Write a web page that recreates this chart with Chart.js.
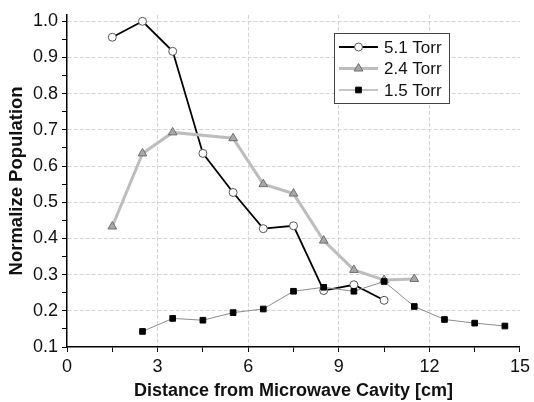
<!DOCTYPE html>
<html>
<head>
<meta charset="utf-8">
<script src="https://cdn.jsdelivr.net/npm/chart.js@4"></script>
<style>
  html, body { margin: 0; padding: 0; background: #fff; }
  #wrap { width: 534px; height: 402px; position: relative; }
</style>
</head>
<body>
<div id="wrap"><canvas id="popChart" width="534" height="402"></canvas></div>
<script>
// Data
const distance51 = [1.5, 2.5, 3.5, 4.5, 5.5, 6.5, 7.5, 8.5, 9.5, 10.5];
const torr51 = [0.956, 1.0, 0.917, 0.635, 0.527, 0.427, 0.435, 0.256, 0.272, 0.229];

const distance24 = [1.5, 2.5, 3.5, 5.5, 6.5, 7.5, 8.5, 9.5, 10.5, 11.5];
const torr24 = [0.433, 0.635, 0.693, 0.677, 0.55, 0.524, 0.394, 0.313, 0.285, 0.288];

const distance15 = [2.5, 3.5, 4.5, 5.5, 6.5, 7.5, 8.5, 9.5, 10.5, 11.5, 12.5, 13.5, 14.5];
const torr15 = [0.143, 0.179, 0.174, 0.195, 0.205, 0.254, 0.265, 0.254, 0.281, 0.212, 0.176, 0.166, 0.158];

const seriesLabels = ['5.1 Torr', '2.4 Torr', '1.5 Torr'];

function toPoints(xs, ys) {
    return xs.map((x, i) => ({ x: x, y: ys[i] }));
}

const isMajor = (v, step) => Math.abs(v / step - Math.round(v / step)) < 1e-6;
const FONT = 'Arial, "Liberation Sans", sans-serif';

// Legend box drawn inside the plot, like the original
const insideLegend = {
    id: 'insideLegend',
    afterDraw(chart) {
        const ctx = chart.ctx;
        const left = 334, top = 33, w = 115, h = 70;
        ctx.save();
        ctx.fillStyle = '#fff';
        ctx.fillRect(left, top, w, h);
        ctx.strokeStyle = '#444';
        ctx.lineWidth = 1;
        ctx.strokeRect(left + 0.5, top + 0.5, w, h);
        chart.data.datasets.forEach((ds, i) => {
            const y = top + 14 + i * 21.5;
            ctx.strokeStyle = ds.borderColor;
            ctx.lineWidth = ds.borderWidth;
            ctx.beginPath();
            ctx.moveTo(339, y);
            ctx.lineTo(378, y);
            ctx.stroke();
            ctx.fillStyle = ds.pointBackgroundColor;
            ctx.strokeStyle = ds.pointBorderColor;
            ctx.lineWidth = ds.pointBorderWidth;
            Chart.helpers.drawPoint(ctx, {
                pointStyle: ds.pointStyle,
                radius: ds.pointRadius,
                borderWidth: ds.pointBorderWidth,
                rotation: 0
            }, 358.5, y);
            ctx.fillStyle = '#111';
            ctx.font = '17px ' + FONT;
            ctx.textBaseline = 'middle';
            ctx.fillText(ds.label, 384, y + 1);
        });
        ctx.restore();
    }
};

const ctx = document.getElementById('popChart').getContext('2d');
const popChart = new Chart(ctx, {
    type: 'line',
    data: {
        datasets: [{
            label: seriesLabels[0],
            data: toPoints(distance51, torr51),
            borderColor: '#000',
            borderWidth: 1.8,
            pointStyle: 'circle',
            pointRadius: 4,
            pointBackgroundColor: '#fff',
            pointBorderColor: '#555',
            pointBorderWidth: 1,
            order: 3
        }, {
            label: seriesLabels[1],
            data: toPoints(distance24, torr24),
            borderColor: '#bdbdbd',
            borderWidth: 3,
            pointStyle: 'triangle',
            pointRadius: 5,
            pointBackgroundColor: '#a8a8a8',
            pointBorderColor: '#6e6e6e',
            pointBorderWidth: 1,
            order: 2
        }, {
            label: seriesLabels[2],
            data: toPoints(distance15, torr15),
            borderColor: '#8c8c8c',
            borderWidth: 1,
            pointStyle: 'rect',
            pointRadius: 4,
            pointBackgroundColor: '#000',
            pointBorderColor: '#000',
            pointBorderWidth: 1,
            order: 1
        }]
    },
    options: {
        responsive: false,
        animation: false,
        layout: { padding: { top: 11, right: 9, left: 6, bottom: 0 } },
        plugins: {
            legend: { display: false },
            tooltip: { enabled: false }
        },
        scales: {
            x: {
                type: 'linear',
                min: 0,
                max: 15,
                afterBuildTicks(scale) {
                    const t = [];
                    for (let i = 0; i <= 10; i++) t.push({ value: i * 1.5 });
                    scale.ticks = t;
                },
                afterFit(scale) { scale.height = 55; },
                border: { display: true, color: '#000', width: 1.5, dash: [4, 2] },
                grid: {
                    color: c => (c.tick && isMajor(c.tick.value, 3) && c.tick.value > 0 && c.tick.value < 15) ? '#d4d4d4' : 'rgba(0,0,0,0)',
                    tickColor: '#000',
                    tickLength: 5,
                    lineWidth: 1
                },
                ticks: {
                    autoSkip: false,
                    maxRotation: 0,
                    padding: 4,
                    color: '#111',
                    font: { family: FONT, size: 18 },
                    callback: v => isMajor(v, 3) ? String(Math.round(v)) : ''
                },
                title: {
                    display: true,
                    text: 'Distance from Microwave Cavity [cm]',
                    color: '#111',
                    font: { family: FONT, size: 18, weight: 'bold' },
                    padding: { top: 12, bottom: 0 }
                }
            },
            y: {
                min: 0.1,
                max: 1.018,
                afterBuildTicks(scale) {
                    const t = [];
                    for (let i = 2; i <= 20; i++) t.push({ value: i * 0.05 });
                    scale.ticks = t;
                },
                afterFit(scale) { scale.width = 61; },
                border: { display: true, color: '#000', width: 1.5, dash: [4, 2] },
                grid: {
                    color: c => (c.tick && isMajor(c.tick.value, 0.1) && c.tick.value > 0.15) ? '#d4d4d4' : 'rgba(0,0,0,0)',
                    tickColor: '#000',
                    tickLength: 5,
                    lineWidth: 1
                },
                ticks: {
                    autoSkip: false,
                    padding: 4,
                    color: '#111',
                    font: { family: FONT, size: 18 },
                    callback: v => isMajor(v, 0.1) ? v.toFixed(1) : ''
                },
                title: {
                    display: true,
                    text: 'Normalize Population',
                    color: '#111',
                    font: { family: FONT, size: 18.5, weight: 'bold' },
                    padding: { top: 0, bottom: 0 }
                }
            }
        }
    },
    plugins: [insideLegend]
});
</script>
</body>
</html>
